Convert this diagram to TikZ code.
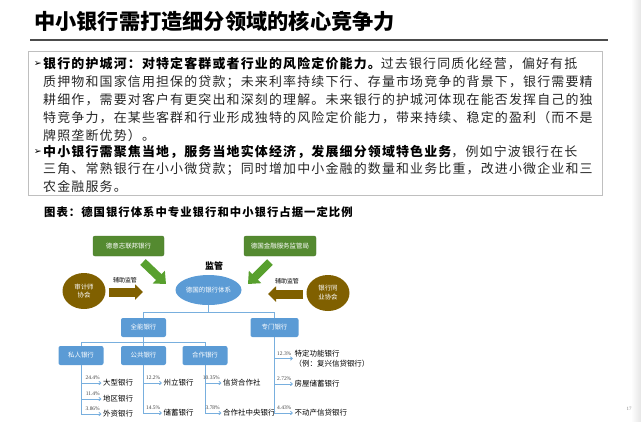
\documentclass[tikz,border=0pt]{standalone}
\usepackage{fontspec}
\usepackage{tikz}
\usetikzlibrary{positioning,arrows.meta,shapes.geometric}
\setmainfont{Noto Sans CJK SC}
\newfontfamily\bodyfont[LetterSpace=9]{Noto Sans CJK SC}
\newfontfamily\numfont{Liberation Serif}
\newfontfamily\symfont{DejaVu Sans}
\definecolor{boxgreen}{RGB}{84,138,48}
\definecolor{arrowgreen}{RGB}{88,160,46}
\definecolor{bankblue}{RGB}{91,155,213}
\definecolor{treeblue}{RGB}{120,175,222}
\definecolor{assocbrown}{RGB}{128,96,0}

\begin{document}
\begin{tikzpicture}[x=1bp,y=-1bp,
    bodyline/.style={anchor=west,inner sep=0pt,text=black!85,font=\fontsize{13}{15}\bodyfont},
    bullet/.style={anchor=east,inner sep=0pt,font=\fontsize{9.5}{11}\symfont},
    gbox/.style={rectangle,rounded corners=2bp,fill=boxgreen,draw=boxgreen!85!black,text=white,minimum height=20bp,inner sep=1bp,font=\fontsize{6.5}{8}\selectfont},
    bbox/.style={rectangle,rounded corners=2bp,fill=bankblue,text=white,minimum width=45bp,minimum height=19bp,inner sep=1bp,font=\fontsize{6.5}{8}\selectfont},
    assoc/.style={ellipse,fill=assocbrown,text=white,minimum width=43bp,minimum height=36bp,inner sep=0pt,align=center,font=\fontsize{6.5}{9}\selectfont},
    garrow/.style={draw=arrowgreen,line width=8bp,-{Triangle[width=17bp,length=10bp]}},
    barrow/.style={draw=assocbrown,line width=9bp,-{Triangle[width=15bp,length=8bp]}},
    tree/.style={draw=treeblue,line width=0.8bp},
    leafarrow/.style={tree,-{Straight Barb[length=2bp,width=3.5bp]}},
    leaf/.style={anchor=west,inner sep=1.5bp,align=left,font=\fontsize{7.5}{10.5}\selectfont},
    pct/.style={inner sep=0.5bp,font=\fontsize{5.5}{6.5}\numfont,text=black!75},
    lbl/.style={inner sep=0pt,font=\fontsize{6}{7}\selectfont}]
    \useasboundingbox (0,0) rectangle (641,421);
    \shade[left color=white,right color=black!10] (631,0) rectangle (641,421);

    % heading and text panel
    \node[anchor=west,inner sep=0pt,font=\fontsize{21.3}{25}\selectfont\bfseries] (title) at (34,21) {中小银行需打造细分领域的核心竞争力};
    \draw[black!70,line width=1.1bp] (30,40) -- (608,40);
    \draw[black!25,line width=0.8bp] (28,51) rectangle (602,195);

    \node[bullet] (b1) at (42,64) {➢};
    \node[bodyline] (l1) at (43,64) {{\bfseries\color{black} 银行的护城河：对特定客群或者行业的风险定价能力。}过去银行同质化经营，偏好有抵};
    \node[bodyline] (l2) at (43,82) {质押物和国家信用担保的贷款；未来利率持续下行、存量市场竞争的背景下，银行需要精};
    \node[bodyline] (l3) at (43,100) {耕细作，需要对客户有更突出和深刻的理解。未来银行的护城河体现在能否发挥自己的独};
    \node[bodyline] (l4) at (43,118) {特竞争力，在某些客群和行业形成独特的风险定价能力，带来持续、稳定的盈利（而不是};
    \node[bodyline] (l5) at (43,135.5) {牌照垄断优势）。};
    \node[bullet] (b2) at (42,152) {➢};
    \node[bodyline] (l6) at (43,152) {{\bfseries\color{black} 中小银行需聚焦当地，服务当地实体经济，发展细分领域特色业务}，例如宁波银行在长};
    \node[bodyline] (l7) at (43,169.5) {三角、常熟银行在小小微贷款；同时增加中小金融的数量和业务比重，改进小微企业和三};
    \node[bodyline] (l8) at (43,186.5) {农金融服务。};

    \node[anchor=west,inner sep=0pt,font=\fontsize{11.4}{13}\bodyfont\bfseries] (cap) at (44,212) {图表：德国银行体系中专业银行和中小银行占据一定比例};

    % supervision
    \node[gbox,minimum width=71bp] (bund) at (128.5,246) {德意志联邦银行};
    \node[gbox,minimum width=72bp] (bafin) at (280,246) {德国金融服务监管局};
    \node[inner sep=0pt,font=\fontsize{9}{10}\selectfont\bfseries] (jg) at (214,266) {监管};
    \node[ellipse,fill=bankblue,text=white,minimum width=66bp,minimum height=30bp,inner sep=0pt,font=\fontsize{6.5}{8}\selectfont] (sys) at (208.5,290) {德国的银行体系};
    \node[assoc] (audit) at (84,291) {审计师\\协会};
    \node[assoc] (peer) at (328,293) {银行同\\业协会};

    \coordinate (bundA) at (143,262); \coordinate (bundB) at (166,284);
    \coordinate (bafinA) at (270,262); \coordinate (bafinB) at (248,284);
    \draw[garrow] (bundA) -- (bundB);
    \draw[garrow] (bafinA) -- (bafinB);

    \coordinate (auditTip) at (143,292); \coordinate (peerTip) at (268,294);
    \draw[barrow,shorten <=3bp] (audit.east |- auditTip) -- (auditTip);
    \draw[barrow,shorten <=3bp] (peer.west |- peerTip) -- (peerTip);
    \node[lbl] (fz1) at (125,280) {辅助监管};
    \node[lbl] (fz2) at (287,281) {辅助监管};

    % bank tree
    \node[bbox] (qn) at (143.5,327.5) {全能银行};
    \node[bbox,minimum width=48bp] (zm) at (274.5,327.5) {专门银行};
    \node[bbox] (sr) at (81,355.5) {私人银行};
    \node[bbox] (gg) at (143.5,355.5) {公共银行};
    \node[bbox] (hz) at (205,355.5) {合作银行};

    \coordinate (split1) at (208.5,312);
    \coordinate (split2) at (143.5,342);
    \draw[tree] (sys.south) -- (split1);
    \draw[tree] (split1) -| (qn.north);
    \draw[tree] (split1) -| (zm.north);
    \draw[tree] (qn.south) -- (split2);
    \draw[tree] (split2) -| (sr.north);
    \draw[tree] (split2) -- (gg.north);
    \draw[tree] (split2) -| (hz.north);

    \node[leaf] (dx) at (101.5,383) {大型银行};
    \node[leaf] (dq) at (101.5,399) {地区银行};
    \node[leaf] (wz) at (101.5,414) {外资银行};
    \node[leaf] (zl) at (162,383) {州立银行};
    \node[leaf] (cx) at (162,413) {储蓄银行};
    \node[leaf] (xd) at (221.5,383) {信贷合作社};
    \node[leaf] (hzy) at (221.5,413) {合作社中央银行};
    \node[leaf] (td) at (293,358.5) {特定功能银行\\（例：复兴信贷银行）};
    \node[leaf] (fw) at (293,384) {房屋储蓄银行};
    \node[leaf] (bd) at (293,413) {不动产信贷银行};

    \foreach \parent/\kid in {sr/dx,sr/dq,sr/wz,gg/zl,gg/cx,hz/xd,hz/hzy,zm/td,zm/fw,zm/bd}
        \draw[leafarrow] (\parent.south) |- (\kid.west);
    \foreach \kid/\share in {dx/24.4,dq/11.4,wz/3.86,zl/12.2,cx/14.5,xd/10.35,hzy/3.78,td/12.3,fw/2.72,bd/4.43}
        \node[pct,above left=2.5bp and 1bp of \kid.west] {\share\%};

    \node[inner sep=0pt,font=\fontsize{5}{6}\numfont,text=black!50] (pg) at (629,409) {17};
\end{tikzpicture}
\end{document}
